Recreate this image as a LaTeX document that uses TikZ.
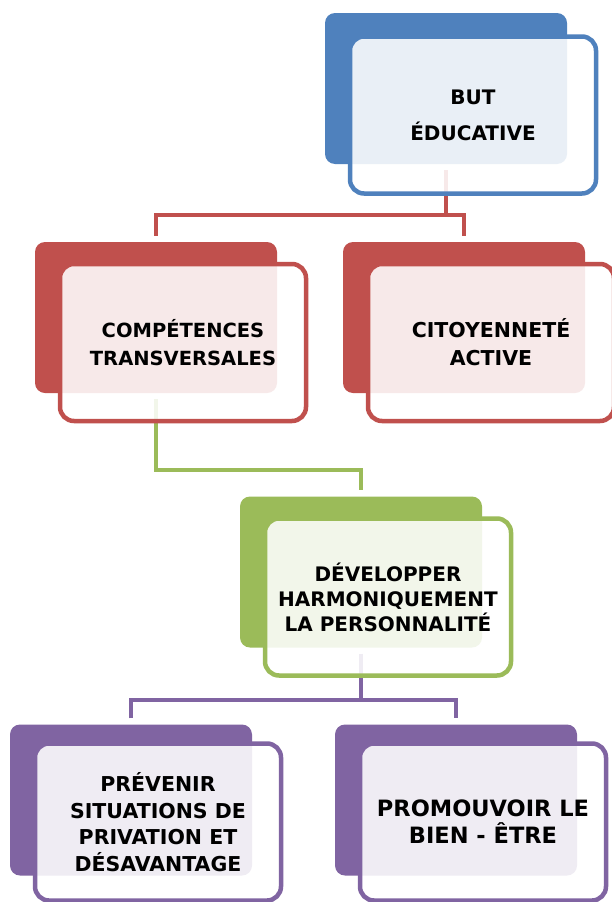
\documentclass[tikz,border=0pt]{standalone}
\usepackage{fontspec}
\setmainfont{DejaVu Sans}
\usepackage{xcolor}
\usepackage{tikz}
\definecolor{blueC}{HTML}{4F81BD}
\definecolor{redC}{HTML}{C0504D}
\definecolor{greenC}{HTML}{9BBB59}
\definecolor{purpleC}{HTML}{8064A2}

\begin{document}
\begin{tikzpicture}[x=1pt, y=-1pt,
  backbox/.style={rectangle, rounded corners=10pt, fill=#1, minimum width=242pt, minimum height=151pt, inner sep=0pt},
  frontbox/.style={rectangle, rounded corners=14pt, draw=#1, line width=4.5pt, fill=white, fill opacity=0.88, text opacity=1, minimum width=246pt, minimum height=157pt, inner sep=0pt, align=center},
  link/.style={line width=4.5pt, shorten <=6pt}]
\fill[white] (0,0) rectangle (612,902);
\useasboundingbox (0,0) rectangle (612,902);

\draw (446,88.5)  node (butb)  [backbox=blueC]   {};
\draw (156,317.5) node (compb) [backbox=redC]    {};
\draw (464,317.5) node (citob) [backbox=redC]    {};
\draw (361,572)   node (devb)  [backbox=greenC]  {};
\draw (131,800)   node (prevb) [backbox=purpleC] {};
\draw (456,800)   node (promb) [backbox=purpleC] {};

\coordinate (lvl1) at (446,215);
\coordinate (lvl2) at (361,470);
\coordinate (lvl3) at (361,700);

\draw[link, redC] (butb.south) -- (lvl1);
\draw[link, redC, shorten >=6pt] (compb.north) |- (lvl1) -| (citob.north);
\draw[link, greenC, shorten >=6pt] (compb.south) |- (lvl2) -- (devb.north);
\draw[link, purpleC] (devb.south) -- (lvl3);
\draw[link, purpleC, shorten >=6pt] (prevb.north) |- (lvl3) -| (promb.north);

\draw (473,115)   node (but)  [frontbox=blueC,
  font=\fontsize{20}{36}\selectfont\bfseries]   {BUT\\ÉDUCATIVE};
\draw (183,342.5) node (comp) [frontbox=redC,
  font=\fontsize{19.5}{28}\selectfont\bfseries] {COMPÉTENCES\\TRANSVERSALES};
\draw (491,342.5) node (cito) [frontbox=redC,
  font=\fontsize{20.5}{28}\selectfont\bfseries] {CITOYENNETÉ\\ACTIVE};
\draw (388,597)   node (dev)  [frontbox=greenC,
  font=\fontsize{20}{25}\selectfont\bfseries]   {DÉVELOPPER\\HARMONIQUEMENT\\LA PERSONNALITÉ};
\draw (158,822)   node (prev) [frontbox=purpleC,
  font=\fontsize{20.5}{26.5}\selectfont\bfseries] {PRÉVENIR\\SITUATIONS DE\\PRIVATION ET\\DÉSAVANTAGE};
\draw (483,822)   node (prom) [frontbox=purpleC,
  font=\fontsize{22.5}{27}\selectfont\bfseries] {PROMOUVOIR LE\\BIEN - ÊTRE};

\end{tikzpicture}
\end{document}
